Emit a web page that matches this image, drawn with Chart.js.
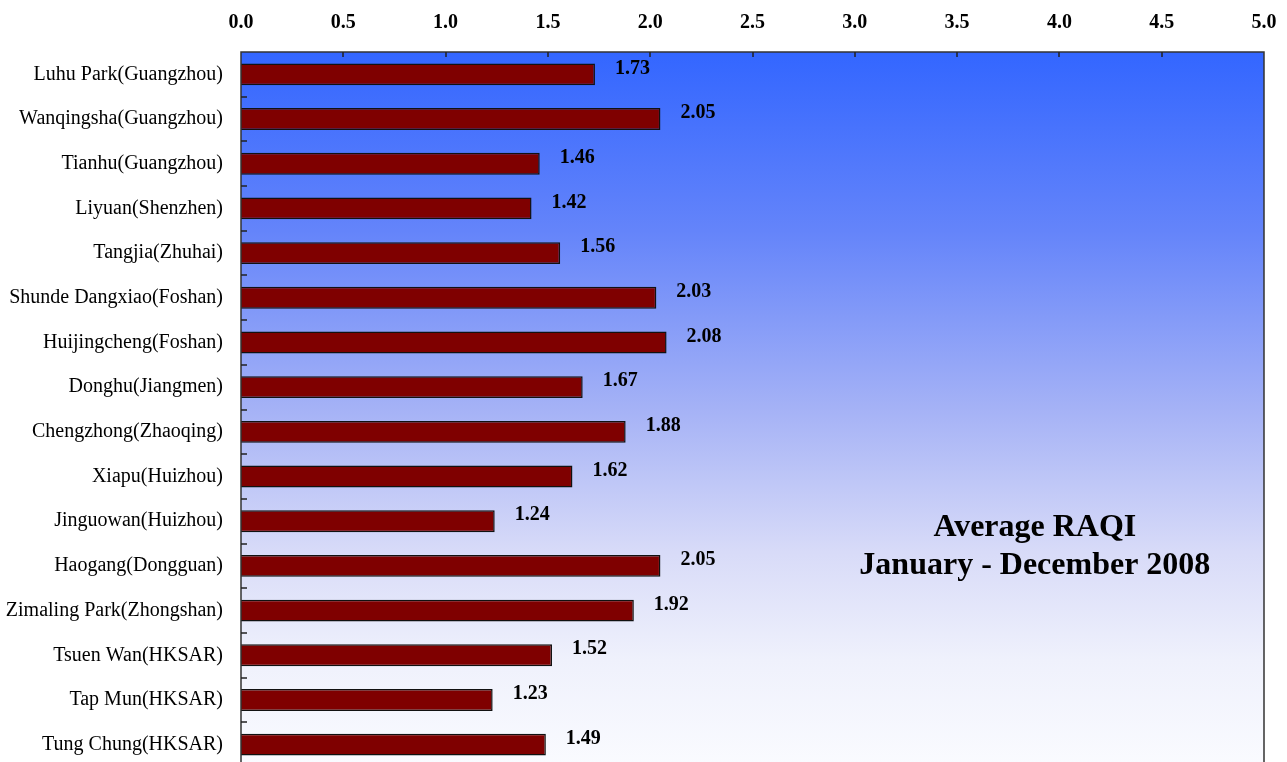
<!DOCTYPE html>
<html>
<head>
<meta charset="utf-8">
<script src="https://cdn.jsdelivr.net/npm/chart.js@4.4.1/dist/chart.umd.min.js"></script>
<style>
  html, body { margin: 0; padding: 0; background: #fff; overflow: hidden; }
  #wrap { width: 1287px; height: 797px; }
</style>
</head>
<body>
<div id="wrap"><canvas id="raqiChart" width="1287" height="797"></canvas></div>
<script>
// stations (top to bottom)
var stations = ['Luhu Park(Guangzhou)', 'Wanqingsha(Guangzhou)', 'Tianhu(Guangzhou)', 'Liyuan(Shenzhen)',
  'Tangjia(Zhuhai)', 'Shunde Dangxiao(Foshan)', 'Huijingcheng(Foshan)', 'Donghu(Jiangmen)',
  'Chengzhong(Zhaoqing)', 'Xiapu(Huizhou)', 'Jinguowan(Huizhou)', 'Haogang(Dongguan)',
  'Zimaling Park(Zhongshan)', 'Tsuen Wan(HKSAR)', 'Tap Mun(HKSAR)', 'Tung Chung(HKSAR)'];
// average RAQI 2008
var raqi = [1.73, 2.05, 1.46, 1.42, 1.56, 2.03, 2.08, 1.67, 1.88, 1.62, 1.24, 2.05, 1.92, 1.52, 1.23, 1.49];
var axisMin = 0;
var axisMax = 5;
var axisStep = 0.5;
var titleLines = ['Average RAQI', 'January - December 2008'];

var serif = '"Liberation Serif", "Times New Roman", serif';

// background, frame, inside ticks, value labels, title text
var decor = {
  id: 'decor',
  beforeDraw: function(chart) {
    var a = chart.chartArea, ctx = chart.ctx;
    var g = ctx.createLinearGradient(0, a.top, 0, a.bottom);
    g.addColorStop(0, 'rgb(51,102,255)');
    g.addColorStop(0.25, 'rgb(100,132,250)');
    g.addColorStop(0.5, 'rgb(165,178,246)');
    g.addColorStop(0.7, 'rgb(216,219,248)');
    g.addColorStop(0.85, 'rgb(239,241,252)');
    g.addColorStop(1, 'rgb(250,251,255)');
    ctx.save();
    ctx.fillStyle = g;
    ctx.fillRect(a.left, a.top, a.right - a.left, a.bottom - a.top);
    ctx.restore();
  },
  afterDatasetsDraw: function(chart) {
    var a = chart.chartArea, ctx = chart.ctx;
    var xs = chart.scales.x, ys = chart.scales.y;
    ctx.save();
    // frame
    ctx.strokeStyle = '#333';
    ctx.lineWidth = 1.5;
    ctx.beginPath();
    ctx.moveTo(a.left, a.bottom + 10);
    ctx.lineTo(a.left, a.top);
    ctx.lineTo(a.right, a.top);
    ctx.lineTo(a.right, a.bottom + 10);
    ctx.stroke();
    // ticks pointing inside
    ctx.strokeStyle = '#222';
    ctx.beginPath();
    for (var v = axisMin + axisStep; v < axisMax; v += axisStep) {
      var px = Math.round(xs.getPixelForValue(v));
      ctx.moveTo(px, a.top);
      ctx.lineTo(px, a.top + 5);
    }
    for (var i = 0; i < stations.length - 1; i++) {
      var py = Math.round((ys.getPixelForValue(i) + ys.getPixelForValue(i + 1)) / 2);
      ctx.moveTo(a.left, py);
      ctx.lineTo(a.left + 6, py);
    }
    ctx.stroke();
    // value labels
    var meta = chart.getDatasetMeta(0);
    ctx.fillStyle = '#000';
    ctx.font = 'bold 20px ' + serif;
    ctx.textAlign = 'left';
    ctx.textBaseline = 'middle';
    meta.data.forEach(function(bar, k) {
      ctx.fillText(raqi[k].toFixed(2), bar.x + 20, bar.y - 6);
    });
    // title inside plot
    ctx.font = 'bold 32px ' + serif;
    ctx.textAlign = 'center';
    ctx.textBaseline = 'alphabetic';
    var cx = a.left + (a.right - a.left) * 0.776;
    var cy = a.top + (a.bottom - a.top) * 0.677;
    titleLines.forEach(function(t, k) {
      ctx.fillText(t, cx, cy + k * 38);
    });
    ctx.restore();
  }
};

var ctx = document.getElementById('raqiChart').getContext('2d');
var chart = new Chart(ctx, {
  type: 'bar',
  data: {
    labels: stations,
    datasets: [{
      data: raqi,
      backgroundColor: '#7f0000',
      borderColor: '#111',
      borderWidth: 1.5,
      barPercentage: 0.49,
      categoryPercentage: 1
    }]
  },
  options: {
    indexAxis: 'y',
    responsive: false,
    animation: false,
    layout: { padding: { top: 0, right: 23, bottom: 3, left: 0 } },
    plugins: {
      legend: { display: false },
      tooltip: { enabled: false }
    },
    scales: {
      x: {
        position: 'top',
        min: axisMin,
        max: axisMax,
        grid: { display: false, drawTicks: false },
        border: { display: false },
        ticks: {
          stepSize: axisStep,
          color: '#000',
          padding: 17,
          maxRotation: 0,
          font: { family: serif, size: 20, weight: 'bold' },
          callback: function(v) { return Number(v).toFixed(1); }
        },
        afterFit: function(s) {
          s.height = 52;
          s.paddingLeft = 0;
          s.paddingRight = 0;
        }
      },
      y: {
        grid: { display: false, drawTicks: false },
        border: { display: false },
        ticks: {
          color: '#000',
          padding: 18,
          autoSkip: false,
          font: { family: serif, size: 20 }
        },
        afterFit: function(s) { s.width = 241; }
      }
    }
  },
  plugins: [decor]
});
</script>
</body>
</html>
